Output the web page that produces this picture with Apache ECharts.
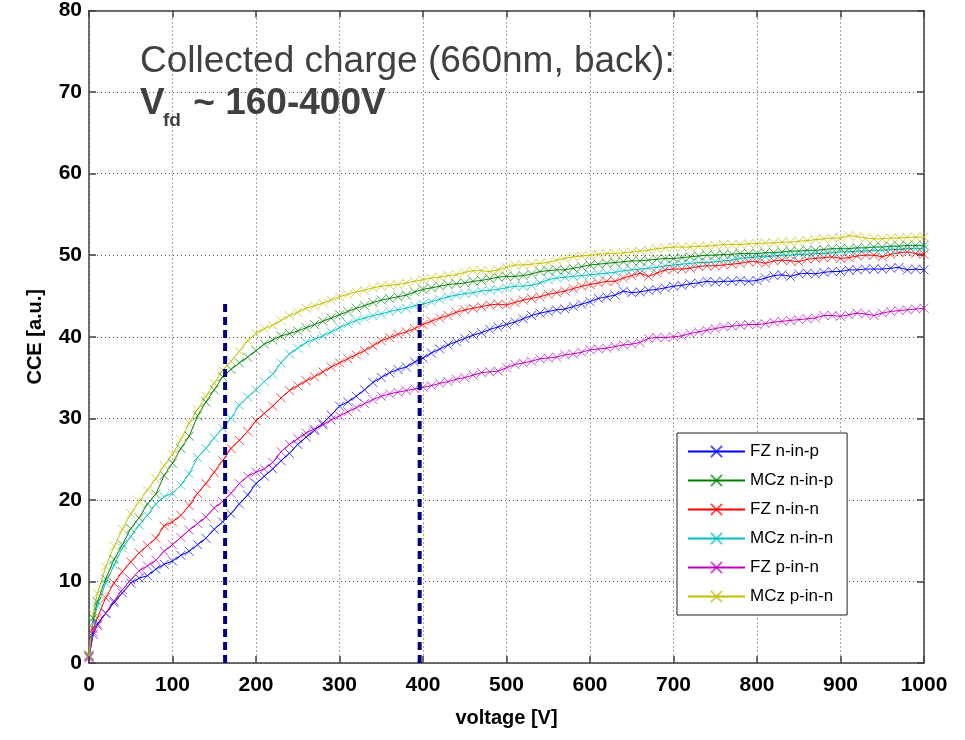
<!DOCTYPE html>
<html><head><meta charset="utf-8">
<script src="https://cdn.jsdelivr.net/npm/echarts@6/dist/echarts.min.js"></script>
<style>html,body{margin:0;padding:0;background:#fff}#c{width:965px;height:740px}</style>
</head><body><div id="c"></div>
<script>
const volts = [0,5,10,20,30,40,50,60,70,80,90,100,110,120,130,140,150,160,170,180,190,200,210,220,230,240,250,260,270,280,290,300,310,320,330,340,350,360,370,380,390,400,410,420,430,440,450,460,470,480,490,500,510,520,530,540,550,560,570,580,590,600,610,620,630,640,650,660,670,680,690,700,710,720,730,740,750,760,770,780,790,800,810,820,830,840,850,860,870,880,890,900,910,920,930,940,950,960,970,980,990,1000];
const fzNinP = [0.8,3.5,4.8,6.1,7.4,8.6,9.8,10.4,10.7,11.5,12.1,12.5,13.2,13.7,14.5,15.3,16.4,17.3,18.3,19.5,20.6,22.0,22.9,23.8,24.8,25.7,26.8,27.7,28.5,29.4,30.4,31.5,32.0,32.7,33.5,34.4,35.0,35.6,36.0,36.3,36.9,37.4,38.0,38.5,39.0,39.4,39.8,40.2,40.5,40.9,41.2,41.5,41.8,42.2,42.6,42.9,43.1,43.3,43.4,43.7,44.0,44.3,44.7,44.9,45.1,45.6,45.4,45.5,45.7,45.8,46.0,46.2,46.3,46.5,46.6,46.8,46.7,46.8,46.8,46.9,46.8,46.9,47.2,47.5,47.6,47.4,47.7,47.8,47.7,47.9,48.0,48.0,48.2,48.2,48.3,48.3,48.3,48.4,48.5,48.2,48.3,48.2];
const mczNinP = [1.0,5.5,7.5,10.3,12.7,14.5,16.5,17.8,19.5,20.7,23.0,24.5,26.3,27.8,30.3,32.0,33.5,35.1,36.0,36.8,37.5,38.3,39.1,39.6,40.1,40.4,40.7,41.1,41.5,41.9,42.3,42.7,43.1,43.5,43.8,44.2,44.5,44.7,44.9,45.1,45.5,45.8,46.0,46.2,46.4,46.5,46.6,46.8,46.9,47.1,47.3,47.4,47.4,47.5,47.7,48.0,48.1,48.2,48.2,48.4,48.6,48.8,48.9,49.0,49.1,49.2,49.3,49.3,49.4,49.5,49.6,49.6,49.7,49.8,49.9,50.0,50.0,50.1,50.1,50.2,50.2,50.2,50.3,50.3,50.4,50.5,50.5,50.6,50.6,50.7,50.8,50.8,50.8,50.9,50.9,51.0,51.0,51.1,51.1,51.2,51.2,51.2];
const fzNinN = [0.8,4.2,5.5,8.0,9.8,11.2,12.4,13.5,14.4,15.3,16.8,17.3,18.1,19.3,20.8,22.0,23.4,24.8,26.3,27.3,28.4,29.7,30.6,31.5,32.5,33.4,34.0,34.6,35.1,35.7,36.3,36.8,37.3,37.8,38.3,38.9,39.5,39.9,40.3,40.6,41.0,41.5,41.9,42.3,42.6,43.0,43.3,43.5,43.7,43.9,44.0,43.9,44.2,44.5,44.7,44.9,45.2,45.4,45.6,45.9,46.2,46.4,46.6,46.8,46.8,47.2,47.5,47.8,47.4,47.8,48.2,48.3,48.3,48.4,48.6,48.7,48.7,48.8,48.9,49.0,49.2,49.2,49.0,49.3,49.4,49.3,49.2,49.5,49.6,49.7,49.8,49.6,49.7,49.9,50.0,50.0,49.8,50.1,50.3,50.4,50.2,50.1];
const mczNinN = [0.9,5.0,7.0,9.8,12.0,14.1,15.5,16.9,18.1,19.5,20.4,20.8,21.8,23.2,25.2,26.3,27.6,28.8,30.0,31.6,32.6,33.5,34.5,35.4,36.8,37.9,38.6,39.3,39.7,40.1,40.6,41.1,41.6,42.0,42.3,42.6,42.8,43.1,43.3,43.5,43.8,44.0,44.3,44.6,44.9,45.1,45.3,45.4,45.6,45.7,45.8,46.0,46.2,46.2,46.3,46.6,47.0,47.2,47.3,47.4,47.5,47.6,47.7,47.8,47.9,48.1,48.2,48.3,48.4,48.5,48.7,48.8,48.9,49.0,49.1,49.1,49.2,49.3,49.4,49.6,49.7,49.8,49.8,49.9,50.0,50.0,50.1,50.1,50.2,50.2,50.3,50.4,50.4,50.5,50.5,50.6,50.6,50.7,50.7,50.8,50.8,50.8];
const fzPinN = [0.6,3.8,4.6,6.1,7.6,9.0,10.2,11.3,11.9,12.6,13.7,14.5,15.4,16.3,17.1,17.9,19.0,19.8,20.8,22.0,22.9,23.4,23.8,24.6,25.9,26.8,27.5,28.2,28.7,29.2,29.8,30.3,30.8,31.3,31.8,32.3,32.7,33.0,33.2,33.4,33.6,33.8,34.0,34.3,34.5,34.8,35.0,35.3,35.6,35.7,35.8,36.2,36.6,36.8,37.0,37.3,37.4,37.5,37.8,37.9,38.1,38.4,38.5,38.6,38.8,39.0,39.1,39.3,39.8,39.9,39.9,40.0,40.1,40.4,40.6,40.8,41.0,41.2,41.3,41.4,41.5,41.5,41.6,41.8,41.9,42.0,42.1,42.2,42.3,42.6,42.6,42.5,42.7,42.9,42.8,42.6,42.9,43.1,43.2,43.3,43.4,43.5];
const mczPinN = [1.0,6.0,8.5,11.8,14.3,16.4,18.3,19.8,21.2,22.6,24.2,25.6,27.4,29.4,31.1,32.7,34.3,35.9,37.0,38.2,39.5,40.4,41.0,41.4,42.0,42.6,43.0,43.5,43.8,44.1,44.5,44.9,45.2,45.5,45.7,46.0,46.2,46.3,46.4,46.6,46.8,47.0,47.2,47.3,47.5,47.6,47.9,48.1,48.1,48.0,48.2,48.5,48.8,48.8,48.9,49.0,49.1,49.4,49.6,49.8,49.9,50.0,50.1,50.2,50.2,50.3,50.4,50.5,50.6,50.8,50.9,51.0,51.0,51.0,51.1,51.1,51.2,51.3,51.3,51.3,51.4,51.4,51.5,51.5,51.6,51.6,51.7,51.8,51.9,52.0,52.1,52.1,52.4,52.3,52.1,52.0,52.0,52.1,52.1,52.2,52.2,52.2];
const seriesNames = ['FZ n-in-p','MCz n-in-p','FZ n-in-n','MCz n-in-n','FZ p-in-n','MCz p-in-n'];
const seriesValues = [fzNinP, mczNinP, fzNinN, mczNinN, fzPinN, mczPinN];
const seriesColors = ['#0000ff','#008000','#ff0000','#00bfbf','#bf00bf','#bfbf00'];
const vfdVoltages = [163, 396];
const vfdTop = 44.5;
const xTicks = {min:0, max:1000, interval:100};
const yTicks = {min:0, max:80, interval:10};

const FONT = "'Liberation Sans', Arial, Helvetica, sans-serif";
const chart = echarts.init(document.getElementById('c'), null, {renderer:'canvas'});
const xMarker = 'path://M0 0L10 10M10 0L0 10';

const series = seriesNames.map((n,i)=>({
  name:n, type:'line', data: volts.map((v,k)=>[v, seriesValues[i][k]]),
  symbol:xMarker, symbolSize:9, showSymbol:true,
  color: seriesColors[i],
  lineStyle:{width:1, color:seriesColors[i]},
  itemStyle:{color:seriesColors[i], borderColor:seriesColors[i], borderWidth:1, opacity:0.7},
  emphasis:{disabled:true}, z:2
}));
vfdVoltages.forEach(v=>{
  series.push({type:'line', data:[[v,0],[v,vfdTop]], symbol:'none', silent:true,
    lineStyle:{color:'#000080', width:4, type:[8,5]}, z:5});
});

const tickStyle = {show:true, inside:true, length:7, lineStyle:{color:'#404040', width:1.5}};
const lineStyleAxis = {show:true, onZero:false, lineStyle:{color:'#404040', width:1.5}};
const plain = v => String(v);

chart.setOption({
  animation:false,
  textStyle:{fontFamily:FONT},
  grid:{left:89, right:41, top:5, bottom:77, containLabel:false},
  xAxis:[
    {type:'value', position:'bottom', min:xTicks.min, max:xTicks.max, interval:xTicks.interval,
      name:'voltage [V]', nameLocation:'middle', nameGap:45,
      nameTextStyle:{fontFamily:FONT, fontWeight:'bold', fontSize:20, color:'#000'},
      axisLine:lineStyleAxis, axisTick:tickStyle,
      axisLabel:{fontFamily:FONT, fontWeight:'bold', fontSize:21, color:'#000', margin:12, formatter:plain},
      splitLine:{show:true, lineStyle:{color:'#555', width:1, type:[1,3]}}},
    {type:'value', position:'top', min:xTicks.min, max:xTicks.max, interval:xTicks.interval,
      axisLine:lineStyleAxis, axisTick:tickStyle, axisLabel:{show:false}, splitLine:{show:false}}
  ],
  yAxis:[
    {type:'value', position:'left', min:yTicks.min, max:yTicks.max, interval:yTicks.interval,
      name:'CCE [a.u.]', nameLocation:'middle', nameGap:44, nameRotate:90,
      nameTextStyle:{fontFamily:FONT, fontWeight:'bold', fontSize:20, color:'#000'},
      axisLine:lineStyleAxis, axisTick:tickStyle,
      axisLabel:{fontFamily:FONT, fontWeight:'bold', fontSize:21, color:'#000', margin:7, formatter:plain},
      splitLine:{show:true, lineStyle:{color:'#555', width:1, type:[1,3]}}},
    {type:'value', position:'right', min:yTicks.min, max:yTicks.max, interval:yTicks.interval,
      axisLine:lineStyleAxis, axisTick:tickStyle, axisLabel:{show:false}, splitLine:{show:false}}
  ],
  legend:{
    data:seriesNames, orient:'vertical', left:677, top:433,
    backgroundColor:'#fff', borderColor:'#222', borderWidth:1, borderRadius:0,
    padding:[10,14,10,10], itemWidth:57, itemHeight:14, itemGap:12,
    textStyle:{fontFamily:FONT, fontSize:17, color:'#000'}, selectedMode:false
  },
  graphic:[
    {type:'text', left:140, top:43, style:{text:'Collected charge (660nm, back):', font:'37px '+FONT, fill:'#404040'}},
    {type:'text', left:140, top:85, style:{text:'V', font:'bold 37px '+FONT, fill:'#404040'}},
    {type:'text', left:163, top:111, style:{text:'fd', font:'bold 19px '+FONT, fill:'#404040'}},
    {type:'text', left:183, top:85, style:{text:' ~ 160-400V', font:'bold 37px '+FONT, fill:'#404040'}}
  ],
  series:series
});
</script></body></html>
